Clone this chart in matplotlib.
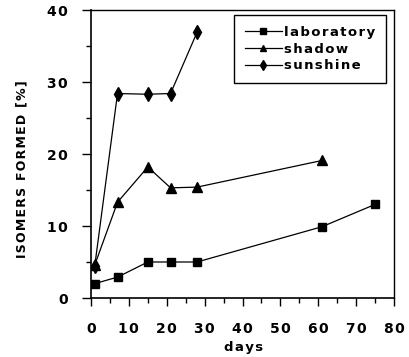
import matplotlib
matplotlib.use("Agg")
import matplotlib.pyplot as plt
from matplotlib.ticker import MultipleLocator

plt.rcParams['font.family'] = ['DejaVu Sans']

def sp(s, g='\u200a'):
    return g.join(s)

lab_x = [1, 7, 15, 21, 28, 61, 75]
lab_y = [2.0, 2.9, 5.0, 5.0, 5.0, 9.9, 13.0]
sha_x = [1, 7, 15, 21, 28, 61]
sha_y = [4.6, 13.3, 18.2, 15.3, 15.4, 19.1]
sun_x = [1, 7, 15, 21, 28]
sun_y = [4.5, 28.4, 28.3, 28.4, 36.9]
xticks = [0, 10, 20, 30, 40, 50, 60, 70, 80]
yticks = [0, 10, 20, 30, 40]

W, H = 409, 357
fig = plt.figure(figsize=(W/100, H/100), dpi=100)
ax = fig.add_axes([91/W, 1-298/H, (394-91)/W, (298-10)/H])

ax.plot(lab_x, lab_y, color='black', lw=0.9, marker='s', ms=6, label=sp('laboratory'))
ax.plot(sha_x, sha_y, color='black', lw=0.9, marker='^', ms=6.5, label=sp('shadow'))
ax.plot(sun_x, sun_y, color='black', lw=0.9, marker='d', ms=7.5, label=sp('sunshine'))

ax.set_xlim(0, 80)
ax.set_ylim(0, 40)
for s in ax.spines.values():
    s.set_linewidth(1.0)
ax.spines['left'].set_linewidth(1.2)
ax.spines['bottom'].set_linewidth(1.2)

ax.set_xticks(xticks)
ax.set_yticks(yticks)
ax.set_xticklabels([sp(str(t)) for t in xticks])
ax.set_yticklabels([sp(str(t)) for t in yticks])
ax.xaxis.set_minor_locator(MultipleLocator(5))
ax.yaxis.set_minor_locator(MultipleLocator(5))
ax.tick_params(axis='x', which='major', direction='out', length=5.5, width=1, pad=12)
ax.tick_params(axis='x', which='minor', direction='out', length=3.8, width=1)
ax.tick_params(axis='y', which='major', direction='out', length=6.5, width=1, pad=10)
ax.tick_params(axis='y', which='minor', direction='out', length=3.6, width=1)
for lab in ax.get_xticklabels() + ax.get_yticklabels():
    lab.set_fontweight('bold')
    lab.set_fontsize(10)

ax.set_xlabel(sp('days'), fontsize=9.5, fontweight='bold', va='center')
ax.xaxis.set_label_coords(0.505, -(348-298)/288)
ax.set_ylabel(sp('ISOMERS FORMED [%]'), fontsize=9, fontweight='bold')
ax.yaxis.set_label_coords(-(91-28)/303, (298-169)/288)

leg = ax.legend(loc='upper right', bbox_to_anchor=(386/W, 1-15/H), bbox_transform=fig.transFigure,
                borderaxespad=0, frameon=True, fancybox=False, edgecolor='black', framealpha=1,
                handlelength=2.8, borderpad=0.8, labelspacing=0.3, handletextpad=0.2, markerscale=0.7,
                prop={'weight': 'bold', 'size': 9.5})
leg.get_frame().set_linewidth(1.0)

fig.savefig('out.png', dpi=100)
